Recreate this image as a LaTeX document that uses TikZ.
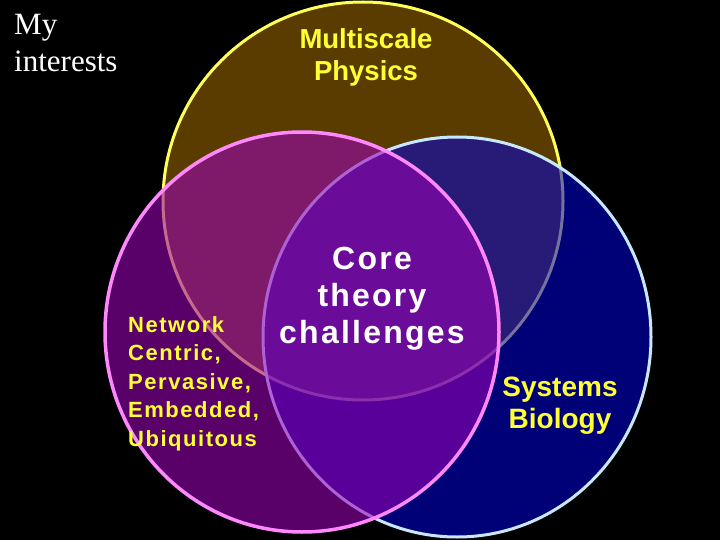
\documentclass[tikz,border=0pt]{standalone}
\usepackage{fontspec}
\setmainfont{Liberation Serif}
\setsansfont{Liberation Sans}
\newfontfamily\widesans[LetterSpace=7]{Liberation Sans}
\definecolor{physfill}{RGB}{90,60,0}
\definecolor{physline}{RGB}{255,255,90}
\definecolor{biofill}{RGB}{0,0,218}
\definecolor{bioline}{RGB}{200,232,255}
\definecolor{netfill}{RGB}{155,0,181}
\definecolor{netline}{RGB}{255,136,255}
\definecolor{labelyellow}{RGB}{255,255,51}
\begin{document}
\begin{tikzpicture}[x=1pt,y=-1pt,
	topic/.style={text=labelyellow,align=center,anchor=north}]
	\tikzstyle{every node}=[inner sep=0]
	\fill[black] (0,0) rectangle (720,540);
	\useasboundingbox (0,0) rectangle (720,540);
	% the three areas
	\filldraw[fill=physfill,draw=physline,line width=3pt] (363,201) ellipse [x radius=200,y radius=199];
	\filldraw[fill=biofill,fill opacity=0.55,draw=bioline,line width=3pt] (457,337) ellipse [x radius=194,y radius=200];
	\filldraw[fill=netfill,fill opacity=0.58,draw=netline,line width=3.5pt] (302,332) ellipse [x radius=197,y radius=200];
	% labels
	\node[text=white,anchor=north west,align=left,font=\fontsize{31}{37}\selectfont] (title) at (14,14) {My\\interests};
	\node[topic,font=\fontsize{27.5}{32}\selectfont\sffamily\bfseries] (phys) at (366,28) {Multiscale\\Physics};
	\node[topic,text=white,font=\fontsize{32}{37}\selectfont\widesans\bfseries] (core) at (372,247) {Core\\theory\\challenges};
	\node[topic,anchor=north west,align=left,font=\fontsize{22}{28.5}\selectfont\widesans\bfseries] (net) at (128,316) {Network\\Centric,\\Pervasive,\\Embedded,\\Ubiquitous};
	\node[topic,font=\fontsize{28}{32}\selectfont\sffamily\bfseries] (bio) at (560,376.5) {Systems\\Biology};
\end{tikzpicture}
\end{document}
